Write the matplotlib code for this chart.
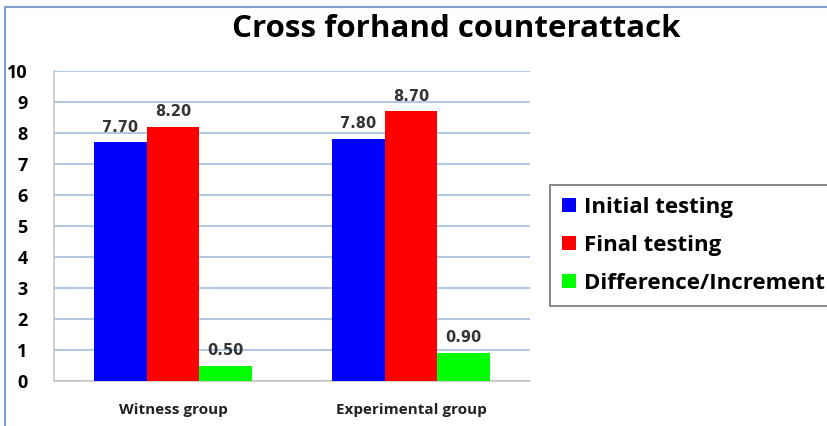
import numpy as np
import matplotlib.pyplot as plt
from matplotlib.patches import Rectangle

groups = ['Witness group', 'Experimental group']
series = ['Initial testing', 'Final testing', 'Difference/Increment']
initial = [7.70, 7.80]
final = [8.20, 8.70]
diff = [0.50, 0.90]
colors = ['#0000ff', '#ff0000', '#00ff00']
yticks = list(range(0, 11))

fig = plt.figure(figsize=(8.28, 4.26), dpi=100)
ax = fig.add_axes([54 / 828, 1 - 381 / 426, 476 / 828, 310 / 426])

# chart border (only top and left show in the crop)
fig.add_artist(Rectangle((5 / 828, -0.05), 1.2, 1 - 7 / 426 + 0.05,
                         transform=fig.transFigure, fill=False,
                         edgecolor='#7e9fd0', lw=1.5))

x = np.arange(len(groups))
w = 0.221
for i, (vals, c, name) in enumerate(zip([initial, final, diff], colors, series)):
    bars = ax.bar(x + (i - 1) * w, vals, w, color=c, label=name, zorder=3)
    for b, v in zip(bars, vals):
        ax.text(b.get_x() + b.get_width() / 2, v + 0.25, f'{v:.2f}',
                ha='center', va='bottom', fontsize=10.5, fontweight='bold',
                color='#333333', family='DejaVu Sans')

ax.set_xlim(-0.5, 1.5)
ax.set_ylim(0, 10)
ax.set_yticks(yticks)
ax.yaxis.grid(True, color='#b4c8e4', lw=1.5, zorder=0)
ax.set_xticks(x)
ax.set_xticklabels(groups, fontsize=11, fontweight='bold', color='#222222',
                   family='Open Sans')
for t in ax.get_yticklabels():
    t.set_fontsize(13)
    t.set_fontweight('bold')
    t.set_family('Open Sans')
ax.tick_params(axis='both', length=0)
ax.tick_params(axis='y', pad=19)
ax.tick_params(axis='x', pad=16)
for s in ['top', 'right']:
    ax.spines[s].set_visible(False)
for s in ['left', 'bottom']:
    ax.spines[s].set_color('#c8c8c8')
    ax.spines[s].set_linewidth(1.2)

fig.text(456 / 828, 1 - 29 / 426, 'Cross forhand counterattack',
         ha='center', va='center', fontsize=22.5, fontweight='bold',
         family='Open Sans')

leg = fig.legend(loc='upper left', bbox_to_anchor=(550 / 828, 1 - 185 / 426),
                 frameon=True, fancybox=False, shadow=False,
                 prop={'family': 'Open Sans', 'weight': 'bold', 'size': 16},
                 handlelength=0.6, handleheight=0.6, handletextpad=0.4,
                 labelspacing=0.75, borderpad=0.55, borderaxespad=0)
leg.get_frame().set_edgecolor('#555555')
leg.get_frame().set_linewidth(1.2)

fig.savefig('out.png', dpi=100)
